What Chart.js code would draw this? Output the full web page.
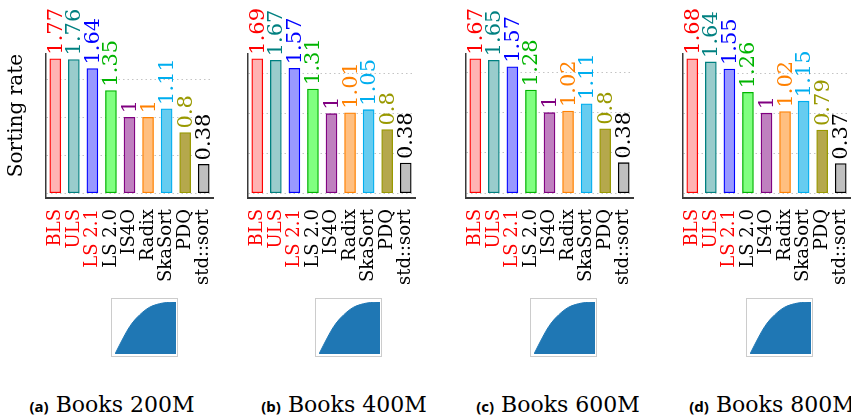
<!DOCTYPE html>
<html>
<head>
<meta charset="utf-8">
<script src="https://cdn.jsdelivr.net/npm/chart.js@4.4.1/dist/chart.umd.min.js"></script>
<style>
  body { margin: 0; background: #fff; width: 851px; height: 417px; overflow: hidden; position: relative; }
  canvas { position: absolute; }
  .cap { position: absolute; top: 393px; white-space: nowrap; font-family: 'DejaVu Serif', serif; font-size: 22px; line-height: 24px; color: #000; transform: translateX(-50%); }
  .cap b { font-family: 'Noto Sans', sans-serif; font-size: 15px; }
</style>
</head>
<body>
<script>
// sorting rate per algorithm, one array per dataset size
const names = ['BLS', 'ULS', 'LS 2.1', 'LS 2.0', 'IS4O', 'Radix', 'SkaSort', 'PDQ', 'std::sort'];
const books200M = [1.77, 1.76, 1.64, 1.35, 1, 1, 1.11, 0.8, 0.38];
const books400M = [1.69, 1.67, 1.57, 1.31, 1, 1.01, 1.05, 0.8, 0.38];
const books600M = [1.67, 1.65, 1.57, 1.28, 1, 1.02, 1.11, 0.8, 0.38];
const books800M = [1.68, 1.64, 1.55, 1.26, 1, 1.02, 1.15, 0.79, 0.37];
const captions = ['Books 200M', 'Books 400M', 'Books 600M', 'Books 800M'];
const letters = ['(a)', '(b)', '(c)', '(d)'];

// key distribution shown under each chart (CDF, normalised)
const cdfX = [0, 0.135, 0.243, 0.351, 0.459, 0.568, 0.676, 0.784, 0.9, 1];
const cdfY = [0, 0.31, 0.53, 0.69, 0.81, 0.9, 0.95, 0.98, 0.995, 1];

const fillColors = ['#ffb3b3', '#99cccc', '#9999ff', '#80ff80', '#bf80bf', '#ffbf80', '#66ccf0', '#b5a84c', '#bfbfbf'];
const lineColors = ['#ff0000', '#008080', '#0000ff', '#00b400', '#800080', '#ff8000', '#00aeef', '#999900', '#000000'];
const nameColors = ['#ff0000', '#ff0000', '#ff0000', '#000', '#000', '#000', '#000', '#000', '#000'];

const panels = [books200M, books400M, books600M, books800M];
const axisLeft = [46, 248, 466, 683];
const insetLeft = [111, 315, 530, 746];
const capCenter = [112, 344, 558, 772];

const valueLabels = {
    id: 'valueLabels',
    afterDatasetsDraw(chart) {
        const ctx = chart.ctx;
        const vals = chart.data.datasets[0].data;
        ctx.save();
        ctx.font = '21px DejaVu Serif';
        ctx.textAlign = 'left';
        ctx.textBaseline = 'middle';
        chart.getDatasetMeta(0).data.forEach((bar, k) => {
            ctx.save();
            ctx.translate(bar.x + 1, bar.y - 4);
            ctx.rotate(-Math.PI / 2);
            ctx.fillStyle = lineColors[k];
            ctx.fillText(String(vals[k]), 0, 0);
            ctx.restore();
        });
        ctx.restore();
    }
};

const frame = {
    id: 'frame',
    beforeDraw(chart) {
        const ctx = chart.ctx;
        ctx.save();
        ctx.strokeStyle = '#cccccc';
        ctx.lineWidth = 1;
        ctx.strokeRect(0.5, 0.5, chart.width - 1, chart.height - 1);
        ctx.restore();
    }
};

function makePanel(i) {
    const values = panels[i];
    const top = Math.max(...values);
    const yW = i === 0 ? 46 : 0;
    const pad = 20;
    const cv = document.createElement('canvas');
    cv.width = yW + pad + 167 + pad;
    cv.height = 300;
    cv.style.left = (axisLeft[i] - yW - pad) + 'px';
    cv.style.top = '0px';
    document.body.appendChild(cv);
    new Chart(cv, {
        type: 'bar',
        data: {
            labels: names,
            datasets: [{
                data: values,
                backgroundColor: fillColors,
                borderColor: lineColors,
                borderWidth: 1.3,
                borderSkipped: false,
                barThickness: 11
            }]
        },
        options: {
            responsive: false,
            animation: false,
            devicePixelRatio: 1,
            layout: { padding: { left: pad, right: pad, top: 54, bottom: 0 } },
            plugins: { legend: { display: false }, tooltip: { enabled: false } },
            scales: {
                x: {
                    grid: { display: false, drawTicks: false },
                    border: { display: true, color: '#3a3a3a', width: 2 },
                    ticks: {
                        autoSkip: false, minRotation: 90, maxRotation: 90, padding: 11,
                        color: c => nameColors[c.index],
                        font: { family: 'DejaVu Serif', size: 18 }
                    },
                    afterFit: s => { s.height = 102; s.paddingLeft = 0; s.paddingRight = 0; }
                },
                y: {
                    min: -0.035 * top,
                    max: 1.035 * top,
                    grid: { color: '#c4c4c4', lineWidth: 1, drawTicks: false },
                    border: { display: true, color: '#3a3a3a', width: 1.5, dash: [1.5, 3] },
                    ticks: { display: false, stepSize: 0.5, includeBounds: false },
                    title: {
                        display: i === 0, text: 'Sorting rate', color: '#000', align: 'end',
                        font: { family: 'DejaVu Serif', size: 20 },
                        padding: { top: 5, bottom: 0 }
                    },
                    afterFit: s => { s.width = yW; }
                }
            }
        },
        plugins: [valueLabels]
    });
}

function makeInset(i) {
    const cv = document.createElement('canvas');
    cv.width = 67;
    cv.height = 59;
    cv.style.left = insetLeft[i] + 'px';
    cv.style.top = '298px';
    document.body.appendChild(cv);
    new Chart(cv, {
        type: 'line',
        data: {
            datasets: [{
                data: cdfX.map((x, k) => ({ x: x, y: cdfY[k] })),
                fill: 'origin',
                backgroundColor: '#1f77b4',
                borderColor: '#1f77b4',
                borderWidth: 1,
                pointRadius: 0,
                cubicInterpolationMode: 'monotone'
            }]
        },
        options: {
            responsive: false,
            animation: false,
            devicePixelRatio: 1,
            layout: { padding: { left: 4, right: 2, top: 4, bottom: 3 } },
            plugins: { legend: { display: false }, tooltip: { enabled: false } },
            scales: {
                x: { type: 'linear', min: 0, max: 1, display: false },
                y: { min: 0, max: 1, display: false }
            }
        },
        plugins: [frame]
    });
}

for (let i = 0; i < 4; i++) {
    makePanel(i);
    makeInset(i);
    const d = document.createElement('div');
    d.className = 'cap';
    d.style.left = capCenter[i] + 'px';
    d.innerHTML = '<b>' + letters[i] + '</b> ' + captions[i];
    document.body.appendChild(d);
}
</script>
</body>
</html>
